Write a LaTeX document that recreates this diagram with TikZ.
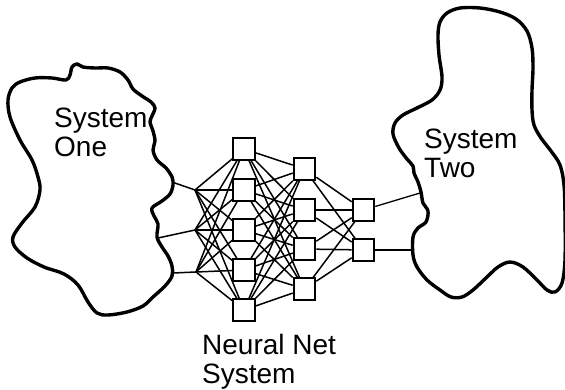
\documentclass[tikz,border=0pt]{standalone}
\usepackage{fontspec}
\setmainfont{Liberation Sans}
\begin{document}
\begin{tikzpicture}[x=1pt,y=-1pt,
  blob/.style={line width=3.4pt, line join=round},
  unit/.style={draw, line width=2.1pt, fill=white, minimum size=21.5pt, inner sep=0pt},
  link/.style={line width=1.5pt},
  caption/.style={font=\fontsize{28}{29}\selectfont, align=left, anchor=north west, inner sep=0pt}]
\useasboundingbox (0,0) rectangle (565,390);

% left system outline
\draw[blob] plot[smooth cycle, tension=0.55] coordinates {
  (8,100) (12,88) (20,82) (35,78) (52,78) (66,80) (70,75) (72,67) (77,64)
  (83,67) (95,68) (108,68) (120,72) (128,80) (133,89) (142,96) (151,102)
  (155,108) (152,116) (150,122) (153,131) (155,141) (153,150) (157,160)
  (166,168) (172,177) (173,185) (170,194) (162,201) (152,208) (154,216)
  (158,224) (157,237) (162,247) (168,256) (172,266) (172,276) (165,286)
  (153,297) (143,306) (127,312) (108,315) (97,313) (88,302) (78,285)
  (64,274) (44,267) (27,258) (15,247) (13,237) (22,223) (35,207) (40,190)
  (38,177) (32,160) (20,140) (10,117)};

% right system outline
\draw[blob] plot[smooth cycle, tension=0.55] coordinates {
  (440,22) (447,13) (460,8) (480,8) (500,12) (516,19) (527,31) (532,48)
  (533,68) (532,90) (532,110) (534,125) (541,138) (551,151) (560,165)
  (564,185) (565,215) (565,260) (562,283) (555,292) (547,290) (537,280)
  (523,267) (510,262) (498,267) (487,277) (473,290) (462,297) (451,297)
  (440,290) (427,280) (417,267) (413,255) (413,237) (418,228) (426,222)
  (428,211) (423,203) (421,192) (418,182) (414,173) (413,166) (407,159)
  (399,148) (393,134) (395,123) (403,115) (417,108) (432,100) (440,90)
  (442,77) (439,55) (438,35)};

% captions
\node[caption] (one) at (54,108) {System\\One};
\node[caption] (two) at (424,129) {System\\Two};
\node[caption] (nn) at (202,334) {Neural Net\\System};

% contact points on the outlines and input junctions
\coordinate (s1a) at (172,182);
\coordinate (s1b) at (158,238);
\coordinate (s1c) at (173,273);
\coordinate (s2a) at (420,193);
\coordinate (s2b) at (413,250);
\coordinate (x1) at (195,190);
\coordinate (x2) at (195,230);
\coordinate (x3) at (196,272);

% network units
\foreach \i/\y in {1/149,2/190,3/230,4/270,5/310}
  \node[unit] (h\i) at (244,\y) {};
\foreach \i/\y in {1/169,2/210,3/249,4/289}
  \node[unit] (g\i) at (304.5,\y) {};
\foreach \i/\y in {1/210,2/250}
  \node[unit] (o\i) at (363.5,\y) {};

% connections
\draw[link] (s1a) -- (x1);
\draw[link] (s1b) -- (x2);
\draw[link] (s1c) -- (x3);
\foreach \a in {1,2,3}
  \foreach \b in {1,...,5}
    \draw[link] (x\a) -- (h\b);
\foreach \a in {1,...,5}
  \foreach \b in {1,...,4}
    \draw[link] (h\a) -- (g\b);
\foreach \a in {1,...,4}
  \foreach \b in {1,2}
    \draw[link] (g\a) -- (o\b);
\draw[link, line width=1.3pt] (o1) -- (s2a);
\draw[link, line width=1.3pt] (o2) -- (s2b);
\end{tikzpicture}
\end{document}
